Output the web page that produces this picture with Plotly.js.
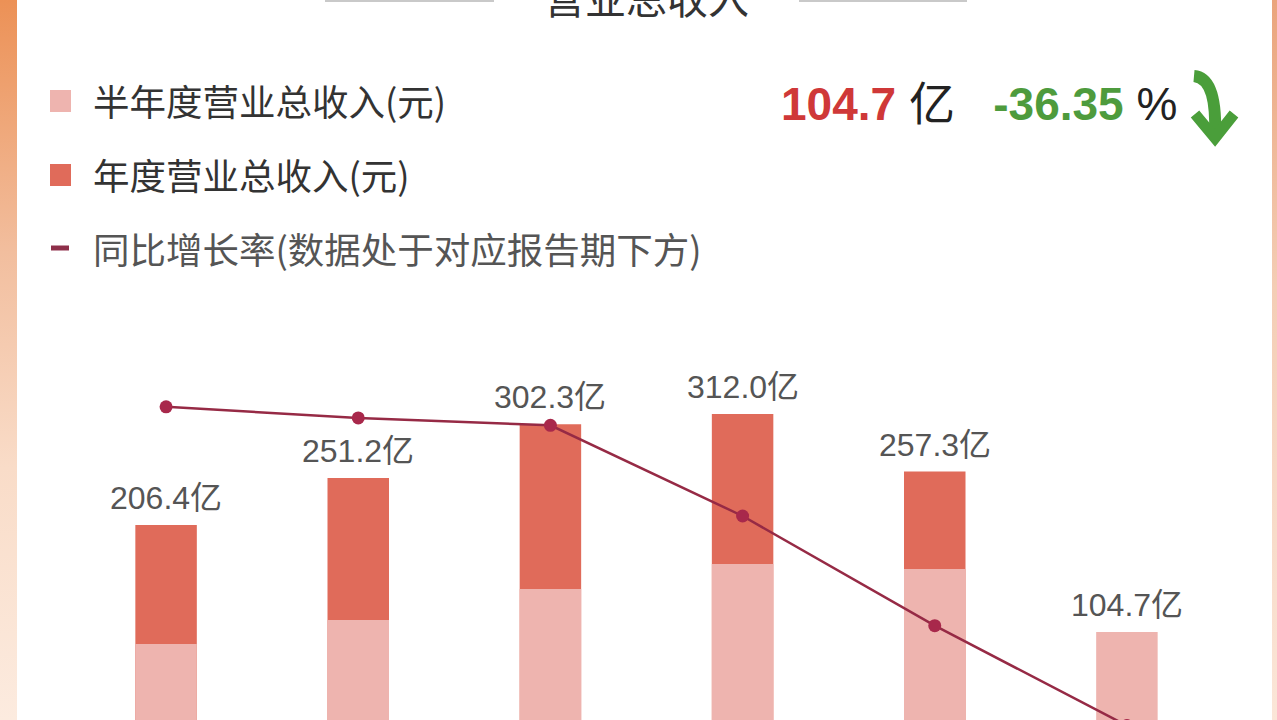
<!DOCTYPE html>
<html>
<head>
<meta charset="utf-8">
<script src="https://cdn.plot.ly/plotly-3.0.1.min.js"></script>
<style>
  html, body { margin: 0; padding: 0; background: #ffffff; width: 1277px; height: 720px; overflow: hidden; }
  #stripL { position: absolute; left: 0; top: 0; width: 17px; height: 720px;
    background: linear-gradient(to bottom, #EC9156 0%, #F2BE9E 35%, #F9DCC8 65%, #FCEBDF 100%); }
  #stripR { position: absolute; right: 0; top: 0; width: 5px; height: 720px;
    background: linear-gradient(to bottom, #EAA47C 0%, #F4CDB5 40%, #FBE6D8 100%); }
  #chart { position: absolute; left: 0; top: 0; width: 1277px; height: 720px; }
</style>
</head>
<body>
<div id="stripL"></div>
<div id="stripR"></div>
<div id="chart"></div>
<script>
// ---- data ----
const categories = ['2019', '2020', '2021', '2022', '2023', '2024中报'];
const annualRevenue = [206.4, 251.2, 302.3, 312.0, 257.3, null];   // 亿
const halfRevenue   = [93.2, 116.0, 145.6, 169.4, 164.6, 104.7];   // 亿
const growthRate    = [23.8, 21.7, 20.3, 3.2, -17.5, -36.35];      // %
const barLabels     = [206.4, 251.2, 302.3, 312.0, 257.3, 104.7];  // 亿
const legendNames   = ['半年度营业总收入(元)', '年度营业总收入(元)', '同比增长率(数据处于对应报告期下方)'];
const chartTitle    = '营业总收入';
const unitText      = '亿';

// ---- style ----
const C_HALF = '#EEB4AF', C_YEAR = '#E06B5A', C_LINE = '#962A45', C_MARK = '#A8284B';
const CJK = '"Noto Sans CJK SC", "Noto Sans", sans-serif';
const NUM = '"Liberation Sans", Arial, "Noto Sans CJK SC", sans-serif';
const W = 1277, H = 720, M = {l: 70, r: 54, t: 300, b: 0};
const PW = W - M.l - M.r, PH = H - M.t - M.b;
const px2x = p => (p - M.l) / PW;
const py2y = p => (H - M.b - p) / PH;

const traces = [
  { type: 'bar', x: categories, y: annualRevenue, name: legendNames[1], width: 0.32,
    marker: {color: C_YEAR}, showlegend: false, hoverinfo: 'skip' },
  { type: 'bar', x: categories, y: halfRevenue, name: legendNames[0], width: 0.32,
    marker: {color: C_HALF}, showlegend: false, hoverinfo: 'skip' },
  { type: 'scatter', mode: 'lines+markers', x: categories, y: growthRate, yaxis: 'y2',
    name: legendNames[2], line: {color: C_LINE, width: 2.5}, marker: {color: C_MARK, size: 13},
    showlegend: false, hoverinfo: 'skip' }
];

const annotations = [];
barLabels.forEach((v, i) => {
  annotations.push({ x: i, y: v, xref: 'x', yref: 'y', text: v.toFixed(1) + unitText,
    showarrow: false, yanchor: 'bottom', yshift: 7, font: {family: NUM, size: 32, color: '#555555'} });
});

// legend (custom)
const legendRows = [101, 175, 248];
const legendColors = [C_HALF, C_YEAR, C_LINE];
const shapes = [];
legendNames.forEach((n, i) => {
  annotations.push({ xref: 'paper', yref: 'paper', x: px2x(91), y: py2y(legendRows[i]),
    xanchor: 'left', yanchor: 'middle', showarrow: false, text: n,
    font: {family: CJK, size: 36.5, color: i < 2 ? '#333333' : '#555555'} });
  if (i < 2) {
    shapes.push({ type: 'rect', xref: 'paper', yref: 'paper', x0: px2x(50), x1: px2x(71),
      y0: py2y(legendRows[i] - 11), y1: py2y(legendRows[i] + 11), line: {width: 0}, fillcolor: legendColors[i] });
  } else {
    shapes.push({ type: 'line', xref: 'paper', yref: 'paper', x0: px2x(51), x1: px2x(69),
      y0: py2y(legendRows[i]), y1: py2y(legendRows[i]), line: {width: 5, color: '#8E2F4A'} });
  }
});

// title side lines
shapes.push({ type: 'line', xref: 'paper', yref: 'paper', x0: px2x(325), x1: px2x(494), y0: py2y(0), y1: py2y(0), line: {width: 4, color: '#C9C9C9'} });
shapes.push({ type: 'line', xref: 'paper', yref: 'paper', x0: px2x(799), x1: px2x(967), y0: py2y(0), y1: py2y(0), line: {width: 4, color: '#C9C9C9'} });

// top-right summary
const latest = barLabels[barLabels.length - 1];
const latestGrowth = growthRate[growthRate.length - 1];
const sp = '\u00A0';
annotations.push({ xref: 'paper', yref: 'paper', x: px2x(779), y: py2y(104), xanchor: 'left', yanchor: 'middle',
  showarrow: false,
  text: '<b><span style="color:#CF3838">' + latest.toFixed(1) + '</span></b>' + sp + unitText + sp + sp + sp +
        '<b><span style="color:#4E9B3D">' + latestGrowth.toFixed(2) + '</span></b>' + sp + '%',
  font: {family: NUM, size: 46, color: '#222222'} });

// green curved arrow
const P = (x, y) => px2x(x).toFixed(5) + ',' + py2y(y).toFixed(5);
shapes.push({ type: 'path', xref: 'paper', yref: 'paper',
  path: 'M' + P(1194, 76) + ' Q' + P(1217, 78) + ' ' + P(1215, 134),
  line: {color: '#4A9E3A', width: 12}, layer: 'above' });
shapes.push({ type: 'path', xref: 'paper', yref: 'paper',
  path: 'M' + P(1195, 114) + ' L' + P(1215, 138) + ' L' + P(1234, 114),
  line: {color: '#4A9E3A', width: 11}, layer: 'above' });

const layout = {
  width: W, height: H, margin: M,
  paper_bgcolor: 'rgba(0,0,0,0)', plot_bgcolor: 'rgba(0,0,0,0)',
  barmode: 'overlay', showlegend: false,
  title: { text: chartTitle, xref: 'paper', x: 0.5, xanchor: 'center', yref: 'container', y: 1, yanchor: 'middle',
    font: {family: CJK, size: 41, color: '#333333'} },
  xaxis: { type: 'category', range: [-0.5, 5.5], showgrid: false, zeroline: false, showline: false,
    showticklabels: false, ticks: '', fixedrange: true },
  yaxis: { range: [20.93, 420.55], visible: false, fixedrange: true },
  yaxis2: { range: [-35.29, 43.95], overlaying: 'y', side: 'right', visible: false, fixedrange: true },
  annotations: annotations, shapes: shapes
};

Plotly.newPlot('chart', traces, layout, {displayModeBar: false, staticPlot: true});
</script>
</body>
</html>
